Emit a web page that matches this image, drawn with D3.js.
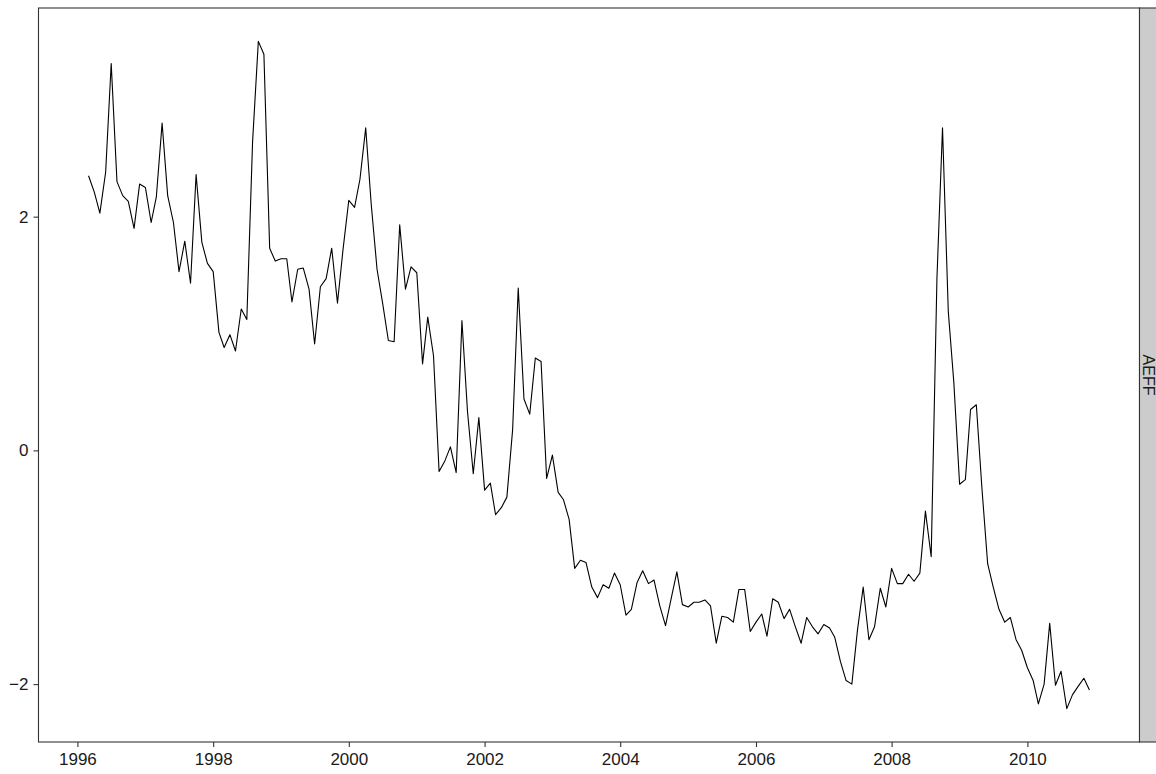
<!DOCTYPE html>
<html>
<head>
<meta charset="utf-8">
<script src="https://cdn.jsdelivr.net/npm/d3@7"></script>
<style>
  html, body { margin: 0; padding: 0; background: #ffffff; }
  svg { display: block; }
  text { font-family: "Liberation Sans", Arial, Helvetica, sans-serif; }
</style>
</head>
<body>
<svg id="chart" width="1156" height="774"></svg>
<script>
// Monthly AEFF series, starting March 1996
const seriesName = "AEFF";
const startMonth = "1996-03-01";
const aeff = [
  2.35, 2.21, 2.03, 2.38, 3.31, 2.30, 2.18, 2.13, 1.90, 2.28,
  2.25, 1.95, 2.17, 2.80, 2.18, 1.95, 1.53, 1.79, 1.43, 2.36, 1.78, 1.60,
  1.53, 1.01, 0.88, 0.99, 0.85, 1.21, 1.12, 2.64, 3.50, 3.39, 1.73, 1.62,
  1.64, 1.64, 1.27, 1.55, 1.56, 1.38, 0.91, 1.40, 1.47, 1.73, 1.26, 1.72,
  2.14, 2.08, 2.32, 2.76, 2.10, 1.55, 1.26, 0.94, 0.93, 1.93, 1.38, 1.57,
  1.52, 0.74, 1.14, 0.81, -0.18, -0.09, 0.03, -0.19, 1.11, 0.33, -0.20, 0.28,
  -0.34, -0.28, -0.55, -0.49, -0.40, 0.18, 1.39, 0.44, 0.31, 0.79, 0.76, -0.24,
  -0.04, -0.36, -0.42, -0.59, -1.01, -0.94, -0.96, -1.17, -1.26, -1.15, -1.18, -1.05,
  -1.15, -1.41, -1.36, -1.13, -1.03, -1.14, -1.11, -1.33, -1.50, -1.27, -1.04, -1.32,
  -1.34, -1.30, -1.30, -1.28, -1.33, -1.65, -1.42, -1.43, -1.47, -1.19, -1.19, -1.55,
  -1.47, -1.40, -1.59, -1.27, -1.30, -1.44, -1.36, -1.51, -1.65, -1.43, -1.51, -1.57,
  -1.49, -1.52, -1.60, -1.81, -1.97, -2.00, -1.54, -1.17, -1.62, -1.51, -1.18, -1.34,
  -1.01, -1.14, -1.14, -1.06, -1.12, -1.05, -0.52, -0.91, 1.47, 2.76, 1.19, 0.58,
  -0.29, -0.25, 0.35, 0.39, -0.32, -0.97, -1.17, -1.36, -1.47, -1.43, -1.62, -1.71,
  -1.86, -1.97, -2.17, -2.00, -1.48, -2.01, -1.89, -2.21, -2.09, -2.02, -1.95, -2.05
];
const xTickYears = [1996, 1998, 2000, 2002, 2004, 2006, 2008, 2010];
const yTicks = [-2, 0, 2];

// Panel geometry
const panel = { left: 38.5, right: 1139.5, top: 8, bottom: 742 };
const stripWidth = 18;

const svg = d3.select("#chart");

const start = new Date(startMonth + "T00:00:00");
const data = aeff.map((v, i) => ({ date: d3.timeMonth.offset(start, i), value: v }));

// 5% padding on both axes around the data range
function expand(ext, f) {
  const span = ext[1] - ext[0];
  return [ext[0] - span * f, ext[1] + span * f];
}
const xExt = d3.extent(data, d => +d.date);
const xDom = expand(xExt, 0.05).map(t => new Date(t));
const yDom = expand(d3.extent(data, d => d.value), 0.05);

const x = d3.scaleTime().domain(xDom).range([panel.left, panel.right]);
const y = d3.scaleLinear().domain(yDom).range([panel.bottom, panel.top]);

// Panel background
svg.append("rect")
  .attr("x", panel.left).attr("y", panel.top)
  .attr("width", panel.right - panel.left).attr("height", panel.bottom - panel.top)
  .attr("fill", "#ffffff");

// Series line
const line = d3.line().x(d => x(d.date)).y(d => y(d.value));
svg.append("path")
  .datum(data)
  .attr("d", line)
  .attr("fill", "none")
  .attr("stroke", "#000000")
  .attr("stroke-width", 1.1)
  .attr("stroke-linejoin", "round");

// Panel border
svg.append("rect")
  .attr("x", panel.left).attr("y", panel.top)
  .attr("width", panel.right - panel.left).attr("height", panel.bottom - panel.top)
  .attr("fill", "none")
  .attr("stroke", "#333333")
  .attr("stroke-width", 1.1);

// Right facet strip
svg.append("rect")
  .attr("x", panel.right).attr("y", panel.top)
  .attr("width", stripWidth).attr("height", panel.bottom - panel.top)
  .attr("fill", "#cccccc")
  .attr("stroke", "#333333")
  .attr("stroke-width", 1.1);
svg.append("text")
  .attr("transform", `translate(${panel.right + stripWidth / 2 - 0.5},${(panel.top + panel.bottom) / 2}) rotate(90)`)
  .attr("text-anchor", "middle")
  .attr("dominant-baseline", "central")
  .attr("font-size", 16)
  .attr("fill", "#1a1a1a")
  .text(seriesName);

// X axis
const xAxis = d3.axisBottom(x)
  .tickValues(xTickYears.map(yr => new Date(yr, 0, 1)))
  .tickFormat(d3.timeFormat("%Y"))
  .tickSize(5)
  .tickPadding(6);
const gx = svg.append("g")
  .attr("transform", `translate(0,${panel.bottom})`)
  .call(xAxis);
gx.select(".domain").remove();
gx.selectAll(".tick line").attr("stroke", "#333333").attr("stroke-width", 1.1);
gx.selectAll(".tick text").attr("font-size", 17).attr("fill", "#1a1a1a")
  .attr("font-family", "Liberation Sans, Arial, sans-serif");

// Y axis
const yAxis = d3.axisLeft(y)
  .tickValues(yTicks)
  .tickFormat(d => d < 0 ? "\u2212" + Math.abs(d) : String(d))
  .tickSize(5)
  .tickPadding(5);
const gy = svg.append("g")
  .attr("transform", `translate(${panel.left},0)`)
  .call(yAxis);
gy.select(".domain").remove();
gy.selectAll(".tick line").attr("stroke", "#333333").attr("stroke-width", 1.1);
gy.selectAll(".tick text").attr("font-size", 17).attr("fill", "#1a1a1a")
  .attr("font-family", "Liberation Sans, Arial, sans-serif");
</script>
</body>
</html>
